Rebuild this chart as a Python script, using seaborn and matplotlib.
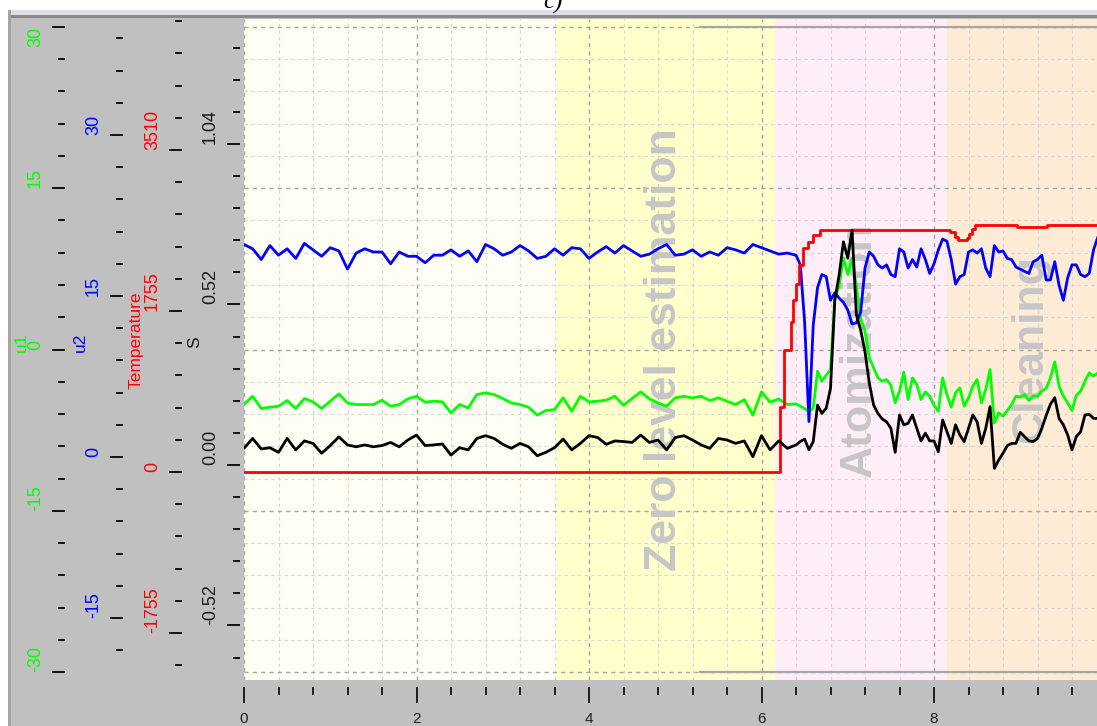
import numpy as np
import pandas as pd
import matplotlib
matplotlib.use("Agg")
import matplotlib.pyplot as plt
import seaborn as sns
from matplotlib.ticker import FixedLocator, MultipleLocator
from matplotlib.patches import Rectangle

# ---------------- data ----------------
time_coarse = np.round(np.arange(0.0, 6.41, 0.1), 2)
time_fine = np.round(np.arange(6.45, 9.91, 0.05), 2)
time_s = np.concatenate([time_coarse, time_fine])

u2_values = [
    19.8, 19.4, 18.4, 19.7, 18.8, 19.4, 18.5, 19.9, 19.3, 18.7,
    19.5, 19.2, 17.5, 19.0, 19.4, 19.1, 19.1, 18.0, 19.1, 18.7,
    18.7, 18.1, 18.8, 18.8, 19.3, 18.7, 19.2, 18.2, 19.8, 19.4,
    18.8, 19.1, 19.7, 19.2, 18.5, 18.7, 19.4, 18.8, 19.5, 19.4,
    18.5, 19.1, 19.6, 19.0, 19.7, 19.2, 18.7, 18.9, 19.4, 19.8,
    18.8, 18.9, 19.3, 18.7, 19.1, 18.8, 19.5, 19.3, 19.0, 19.8,
    19.5, 19.2, 18.9, 19.0, 18.8,
    17.9, 12.6, 3.3, 12.3, 15.8, 17.0, 16.8, 14.6, 15.3, 14.8, 14.4,
    13.7, 12.4, 12.5, 13.5, 17.6, 19.1, 18.7, 17.9, 17.6, 17.9,
    17.0, 16.8, 19.4, 19.1, 17.6, 18.4, 17.7, 19.4, 18.4, 17.1,
    18.0, 19.3, 20.3, 20.1, 18.4, 16.1, 16.8, 17.0, 19.1, 19.3,
    19.0, 19.4, 17.6, 16.8, 19.7, 19.1, 19.2, 18.5, 18.4, 17.7,
    17.5, 17.3, 17.1, 18.2, 18.4, 18.8, 16.5, 16.5, 18.2, 16.0,
    14.6, 16.7, 17.9, 17.9, 17.0, 16.8, 17.1, 19.3, 20.5,
]

u1_values = [
    -5.12, -4.35, -5.49, -5.37, -5.28, -4.75, -5.49, -4.56, -4.87, -5.49,
    -4.81, -4.13, -4.97, -5.12, -5.12, -5.12, -4.72, -5.28, -5.12, -4.59,
    -4.35, -4.90, -4.81, -4.87, -5.90, -5.12, -5.43, -4.19, -4.04, -4.19,
    -4.56, -4.97, -5.12, -5.37, -6.11, -5.68, -5.59, -4.50, -5.74, -4.35,
    -4.87, -4.81, -4.72, -4.35, -5.18, -4.56, -3.94, -4.59, -4.97, -5.28,
    -4.50, -4.35, -4.50, -4.35, -4.75, -4.50, -4.81, -5.12, -4.66, -6.11,
    -3.94, -4.90, -4.60, -5.12, -5.05,
    -5.27, -5.49, -5.80, -5.43, -2.02, -2.95, -2.39, -1.86, 4.81, 5.89, 8.53,
    6.98, 8.47, 5.89, 2.88, 1.70, -0.78, -1.71, -2.64, -2.95, -2.79,
    -3.32, -4.96, -3.88, -2.10, -4.65, -2.64, -3.26, -4.65, -3.94, -4.34,
    -5.20, -5.74, -2.64, -4.19, -5.36, -4.03, -3.57, -5.27, -4.50, -3.41,
    -2.79, -4.96, -3.72, -1.86, -6.82, -5.89, -6.20, -5.67, -5.12, -4.34,
    -4.43, -4.19, -4.74, -4.34, -4.34, -3.88, -3.63, -2.64, -1.15, -3.41,
    -4.34, -4.96, -5.67, -4.25, -3.88, -2.95, -2.17, -2.48, -2.17,
]

s_values = [
    0.054, 0.086, 0.052, 0.056, 0.041, 0.086, 0.049, 0.078, 0.070, 0.038,
    0.063, 0.091, 0.065, 0.059, 0.065, 0.059, 0.063, 0.073, 0.059, 0.081,
    0.097, 0.063, 0.065, 0.068, 0.032, 0.056, 0.049, 0.086, 0.095, 0.086,
    0.067, 0.054, 0.070, 0.059, 0.030, 0.041, 0.056, 0.084, 0.049, 0.070,
    0.095, 0.089, 0.067, 0.078, 0.076, 0.073, 0.097, 0.073, 0.081, 0.049,
    0.089, 0.095, 0.081, 0.065, 0.054, 0.086, 0.081, 0.070, 0.078, 0.027,
    0.095, 0.049, 0.078, 0.054, 0.065,
    0.076, 0.084, 0.049, 0.076, 0.194, 0.167, 0.184, 0.248, 0.534, 0.615, 0.723,
    0.670, 0.761, 0.486, 0.437, 0.367, 0.265, 0.194, 0.167, 0.149, 0.140,
    0.119, 0.041, 0.162, 0.130, 0.135, 0.162, 0.119, 0.078, 0.103, 0.078,
    0.078, 0.043, 0.146, 0.108, 0.070, 0.130, 0.097, 0.076, 0.119, 0.162,
    0.140, 0.070, 0.119, 0.189, -0.011, 0.016, 0.038, 0.063, 0.070, 0.070,
    0.106, 0.092, 0.078, 0.076, 0.086, 0.119, 0.160, 0.197, 0.218, 0.151,
    0.130, 0.097, 0.049, 0.092, 0.108, 0.162, 0.164, 0.151, 0.151,
]

temp_time = [0.0, 6.22, 6.26, 6.34, 6.37, 6.40, 6.44, 6.48, 6.54, 6.60, 6.68,
             8.19, 8.24, 8.28, 8.38, 8.41, 8.44, 8.47, 8.96, 9.31, 9.90]
temp_values = [0, 712, 1330, 1638, 1875, 2050, 2256, 2438, 2510, 2583, 2638,
               2620, 2565, 2530, 2547, 2590, 2650, 2692, 2674, 2692, 2692]

phase_edges = [0.0, 3.63, 6.16, 8.15, 9.95]
phase_colors = ["#fffef4", "#ffffcc", "#ffedf7", "#fdebd5"]
phase_labels = ["Zero level estimation", "Atomization", "Cleaning"]
phase_label_x = [4.88, 7.13, 9.12]

x_major = [0, 2, 4, 6, 8]
u1_ticks = [-30, -15, 0, 15, 30]
u2_ticks = [-15, 0, 15, 30]
temp_ticks = [-1755, 0, 1755, 3510]
s_ticks = [-0.52, 0.0, 0.52, 1.04]
s_ticklabels = ["-0.52", "0.00", "0.52", "1.04"]

# ---------------- style ----------------
sns.set_theme(style="ticks")
plt.rcParams["font.family"] = ["Liberation Sans", "DejaVu Sans"]
plt.rcParams["axes.unicode_minus"] = False

W, H, DPI = 1097, 726, 100
PT = 72.0 / DPI

fig = plt.figure(figsize=(W / DPI, H / DPI), dpi=DPI)
fig.patch.set_facecolor("white")


def fx(p):
    return p / W


def fy(p):
    return 1.0 - p / H


# window-like frame
fig.add_artist(Rectangle((fx(8), 0), 1 - fx(8), fy(10), transform=fig.transFigure,
                         facecolor="#a4a4a4", edgecolor="none", zorder=-5))
fig.add_artist(Rectangle((fx(11), 0), 1 - fx(11), fy(10), transform=fig.transFigure,
                         facecolor="#c0c0c0", edgecolor="none", zorder=-4))
fig.add_artist(Rectangle((fx(11), fy(15)), 1 - fx(11), 5 / H, transform=fig.transFigure,
                         facecolor="#dedee6", edgecolor="none", zorder=-3))
fig.add_artist(Rectangle((fx(11), fy(18)), 1 - fx(11), 3 / H, transform=fig.transFigure,
                         facecolor="#8a8a8a", edgecolor="none", zorder=-3))
fig.text(fx(553), fy(9), "c)", fontsize=18, style="italic", family="Liberation Serif",
         ha="center", va="baseline", color="black")

ax = fig.add_axes([fx(244), fy(680), 1 - fx(244), (680 - 19) / H])
ax.set_facecolor(phase_colors[0])

XMAX = (1097 - 244) / 86.25
ax.set_xlim(0, XMAX)
ax.set_ylim(-30.74, 30.74)

for i, c in enumerate(phase_colors):
    ax.axvspan(phase_edges[i], phase_edges[i + 1], color=c, lw=0, zorder=0)

ax.set_axisbelow(True)
ax.xaxis.set_major_locator(FixedLocator(x_major))
ax.xaxis.set_minor_locator(MultipleLocator(0.4))
ax.yaxis.set_minor_locator(MultipleLocator(3))
ax.grid(which="major", color="#a6a6a6", linestyle=(0, (3, 3)), linewidth=1.0, zorder=0.5)
ax.grid(which="minor", color="#d6d6d6", linestyle=(0, (3, 3)), linewidth=0.8, zorder=0.5)
ax.hlines([30, -30], 5.28, 9.95, color="#a6a6a6", lw=1.6, zorder=0.6)

for lab, xl in zip(phase_labels, phase_label_x):
    ax.text(xl, 0, lab, rotation=90, ha="center", va="center", fontsize=32,
            fontweight="bold", color="#c6c6c6", zorder=0.8)

green = "#00ff00"
sns.lineplot(x=time_s, y=u1_values, ax=ax, color=green, linewidth=2.0,
             estimator=None, sort=False, legend=False, zorder=2)

ax_u2 = ax.twinx()
sns.lineplot(x=time_s, y=u2_values, ax=ax_u2, color="#0000ff", linewidth=2.0,
             estimator=None, sort=False, legend=False)
ax_u2.set_ylim(-20.78, 40.81)

ax_t = ax.twinx()
sns.lineplot(x=temp_time, y=temp_values, ax=ax_t, color="#ff0000", linewidth=2.0,
             estimator=None, sort=False, legend=False, drawstyle="steps-post")
ax_t.set_ylim(-2267, 4938)

ax_s = ax.twinx()
sns.lineplot(x=time_s, y=s_values, ax=ax_s, color="black", linewidth=2.0,
             estimator=None, sort=False, legend=False)
ax_s.set_ylim(-0.6966, 1.445)

ax.set_xlim(0, XMAX)

axis_specs = [
    (ax, 244 - 65, u1_ticks, [str(v) for v in u1_ticks], 3, green),
    (ax_u2, 244 - 123, u2_ticks, [str(v) for v in u2_ticks], 3, "#0000ff"),
    (ax_t, 244 - 182, temp_ticks, [str(v) for v in temp_ticks], 351, "#ff0000"),
    (ax_s, 244 - 240, s_ticks, s_ticklabels, 0.104, "#1a1a1a"),
]

for a, off, ticks, labels, minor, col in axis_specs:
    for sp in a.spines.values():
        sp.set_visible(False)
    a.yaxis.tick_left()
    a.spines["left"].set_position(("outward", off * PT))
    a.set_yticks(ticks, labels=labels, rotation=90, va="bottom", ha="right",
                 color=col, fontsize=13)
    a.yaxis.set_minor_locator(MultipleLocator(minor))
    a.tick_params(axis="y", which="major", direction="out", length=13 * PT,
                  width=1.4, color="#111111", pad=8 * PT, left=True, right=False)
    a.tick_params(axis="y", which="minor", direction="out", length=7 * PT,
                  width=1.4, color="#111111", left=True, right=False)
    a.set_ylabel("")
    a.set_xlabel("")

# the topmost u1 label sits below its tick so it stays inside the panel
ax.get_yticklabels()[-1].set_va("top")

ax.spines["bottom"].set_position(("outward", 7 * PT))
ax.tick_params(axis="x", which="major", direction="out", length=16 * PT, width=1.3,
               color="#111111", pad=9 * PT, labelsize=11, bottom=True, top=False,
               labelcolor="#202020")
ax.tick_params(axis="x", which="minor", direction="out", length=8 * PT, width=1.3,
               color="#111111", bottom=True, top=False)
ax.set_xticklabels([str(v) for v in x_major])

# axis titles in the left panel
fig.text(fx(21), fy(342), "u1", rotation=90, ha="center", va="center", color=green, fontsize=12.5)
fig.text(fx(80), fy(342), "u2", rotation=90, ha="center", va="center", color="#0000ff", fontsize=12.5)
fig.text(fx(136), fy(340), "Temperature", rotation=90, ha="center", va="center", color="#ff0000", fontsize=12.5)
fig.text(fx(195), fy(342), "S", rotation=90, ha="center", va="center", color="#1a1a1a", fontsize=12.5)

fig.savefig("out.png", dpi=DPI)
